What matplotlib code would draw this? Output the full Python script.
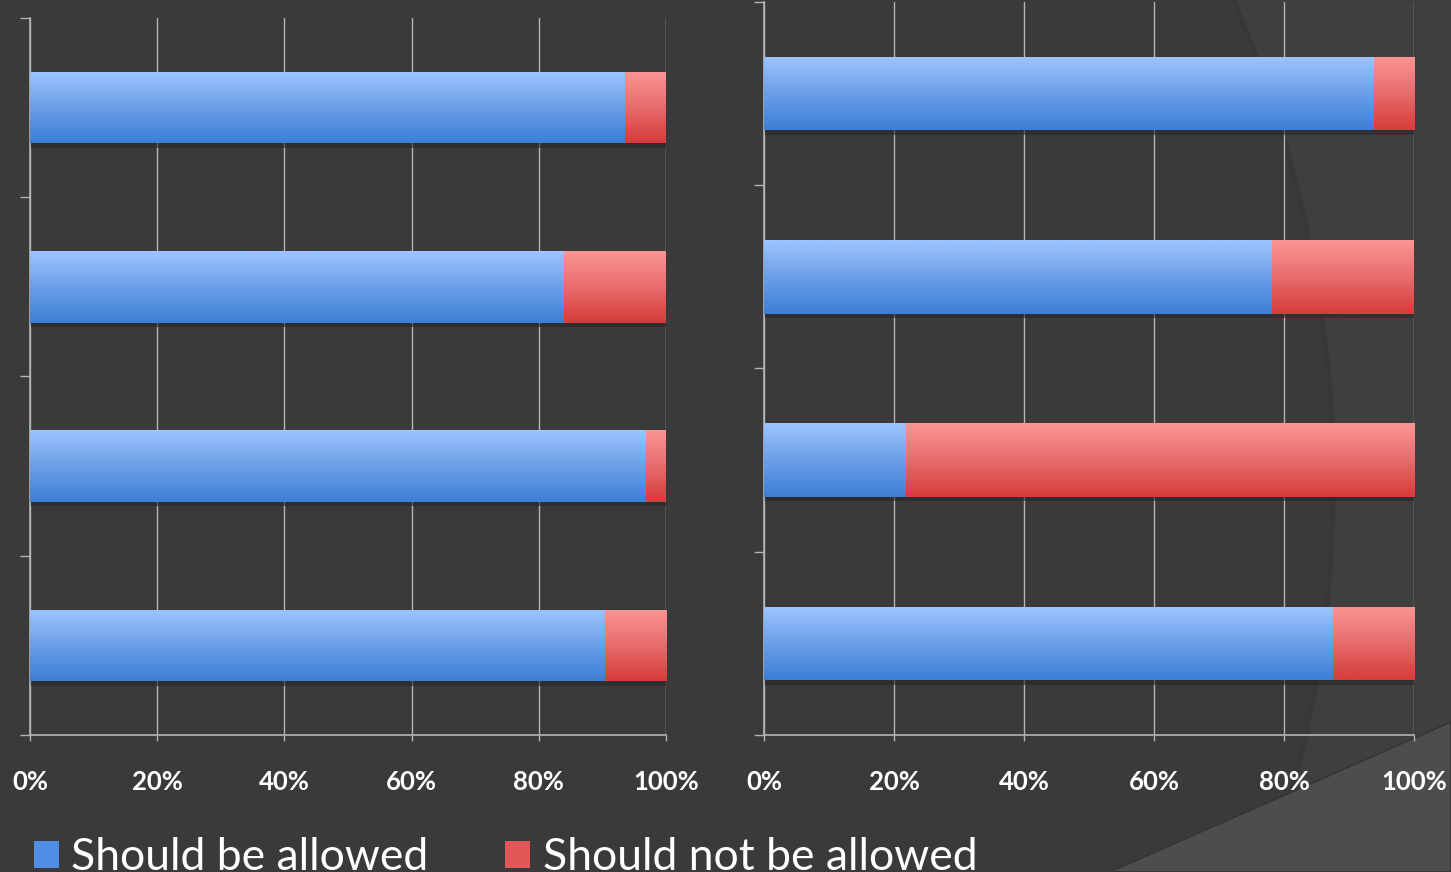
import numpy as np
import matplotlib
matplotlib.use("Agg")
import matplotlib.pyplot as plt
from matplotlib.patches import Circle, Polygon, Rectangle
from matplotlib.colors import LinearSegmentedColormap

# ---- data -------------------------------------------------------------
left_allowed = [93.6, 84.0, 96.9, 90.4]
right_allowed = [93.8, 78.2, 21.8, 87.5]
left_not = [100 - v for v in left_allowed]
right_not = [100 - v for v in right_allowed]
xticks = [0, 20, 40, 60, 80, 100]
xtick_labels = ["0%", "20%", "40%", "60%", "80%", "100%"]
series_names = ["Should be allowed", "Should not be allowed"]

# ---- style ------------------------------------------------------------
BG = "#3f3f3f"
BG_INNER = "#3a3a3a"
LINE = "#b4b4b4"
BLUE = "#4f8ee4"
RED = "#e05858"
blue_grad = LinearSegmentedColormap.from_list("bg", ["#9dc4ff", "#6c9fe8", "#3d7fd6"])
red_grad = LinearSegmentedColormap.from_list("rg", ["#fb9595", "#e86c6c", "#d63c3c"])
W, H = 1451, 872

fig = plt.figure(figsize=(W / 100, H / 100), dpi=100, facecolor=BG)

# background decoration (pixel coordinates)
bg = fig.add_axes([0, 0, 1, 1], zorder=-10)
bg.set_xlim(0, W)
bg.set_ylim(H, 0)
bg.axis("off")
bg.add_patch(Circle((130, 480), 1200, facecolor=BG_INNER, edgecolor="none"))
bg.add_patch(Circle((130, 480), 1203, facecolor="none", edgecolor="#333333", lw=4, alpha=0.5))
bg.add_patch(Polygon([(1110, H), (W, 722), (W, H)], closed=True,
                     facecolor="#4d4d4d", edgecolor="#363636", lw=1.2))


def draw_panel(rect, allowed, not_allowed):
    ax = fig.add_axes(rect)
    ax.set_facecolor("none")
    y = np.arange(len(allowed))
    b1 = ax.barh(y, allowed, height=0.4, color=BLUE, zorder=3)
    b2 = ax.barh(y, not_allowed, left=allowed, height=0.4, color=RED, zorder=3)
    grad = np.linspace(0, 1, 64).reshape(-1, 1)
    for bars, cmap in ((b1, blue_grad), (b2, red_grad)):
        for p in bars.patches:
            x0, yb = p.get_x(), p.get_y()
            w, h = p.get_width(), p.get_height()
            # soft shadow under each segment
            ax.add_patch(Rectangle((x0, yb + h), w, 0.025, facecolor="#262626",
                                   alpha=0.6, edgecolor="none", zorder=2))
            im = ax.imshow(grad, cmap=cmap, aspect="auto", origin="upper",
                           extent=(x0, x0 + w, yb + h, yb), zorder=4,
                           interpolation="bilinear")
            im.set_clip_path(p)
    ax.set_xlim(0, 100)
    ax.set_ylim(3.5, -0.5)
    ax.set_xticks(xticks)
    ax.set_xticklabels(xtick_labels)
    ax.set_yticks(np.arange(-0.5, 4.0, 1.0))
    ax.set_yticklabels([])
    ax.grid(axis="x", color=LINE, lw=1, zorder=1)
    for s in ("top", "right"):
        ax.spines[s].set_visible(False)
    for s in ("left", "bottom"):
        ax.spines[s].set_color(LINE)
        ax.spines[s].set_linewidth(1.2)
    ax.tick_params(axis="y", length=7, color=LINE, width=1)
    ax.tick_params(axis="x", length=4.5, color=LINE, width=1, pad=21,
                   labelcolor="white", labelsize=18.5)
    for lab in ax.get_xticklabels():
        lab.set_fontweight("bold")
        lab.set_fontfamily("Lato")
    return b1, b2


h1, h2 = draw_panel([30 / W, 1 - 735 / H, 636 / W, 717 / H], left_allowed, left_not)
draw_panel([764 / W, 1 - 735 / H, 650 / W, 733 / H], right_allowed, right_not)

fig.legend([h1, h2], series_names, loc="lower left",
           bbox_to_anchor=(-6 / W, -46 / H), ncol=2, frameon=False,
           prop={"family": "Lato", "size": 32}, labelcolor="white",
           handlelength=0.56, handleheight=0.56, handletextpad=0.28,
           columnspacing=1.73)

fig.savefig("out.png", dpi=100, facecolor=BG)
